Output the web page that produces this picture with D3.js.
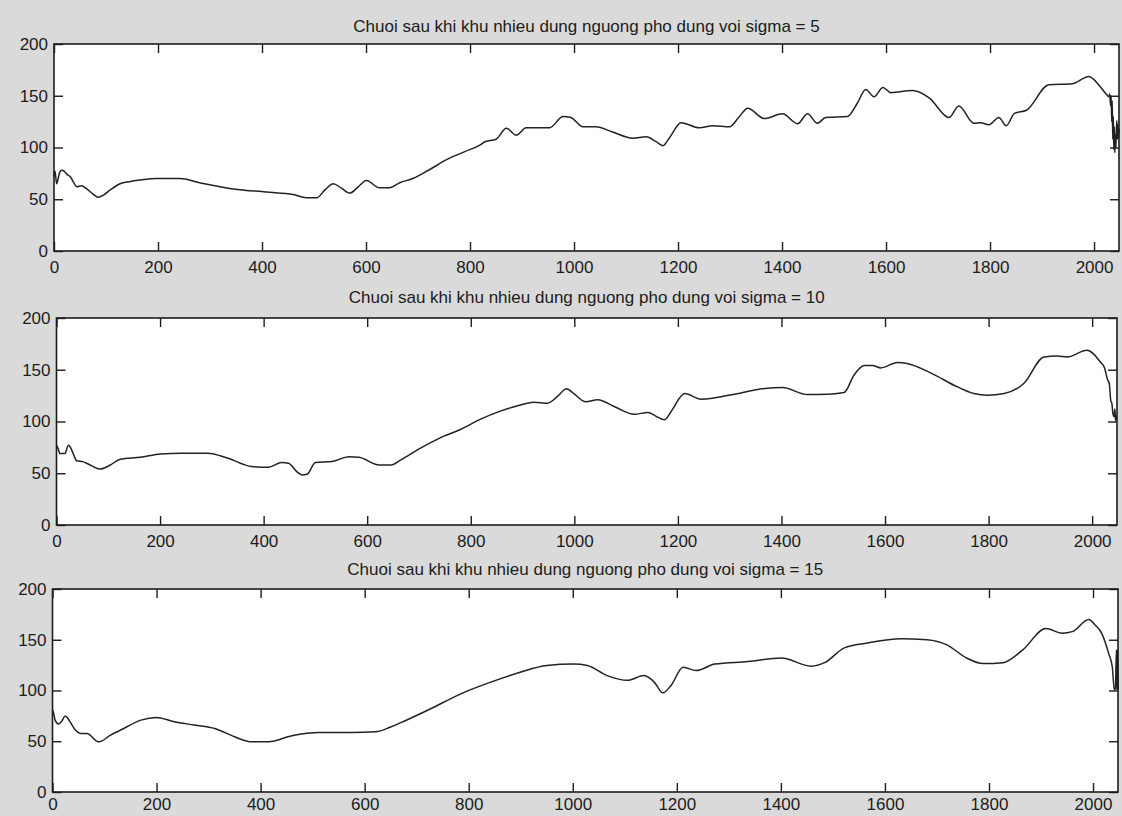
<!DOCTYPE html>
<html>
<head>
<meta charset="utf-8">
<script src="https://cdn.jsdelivr.net/npm/d3@7/dist/d3.min.js"></script>
<style>
  html, body { margin: 0; padding: 0; background: #dadada; }
  svg { display: block; }
  text { font-family: "Liberation Sans", Arial, sans-serif; fill: #1c1c1c; }
</style>
</head>
<body>
<svg id="chart" width="1122" height="816"></svg>
<script>
// ---------- DATA ----------
const xTicks = [0, 200, 400, 600, 800, 1000, 1200, 1400, 1600, 1800, 2000];
const yTicks = [0, 50, 100, 150, 200];
const xDomain = [0, 2048];
const yDomain = [0, 200];

const titles = [
  "Chuoi sau khi khu nhieu dung nguong pho dung voi sigma = 5",
  "Chuoi sau khi khu nhieu dung nguong pho dung voi sigma = 10",
  "Chuoi sau khi khu nhieu dung nguong pho dung voi sigma = 15"
];

const sigma5 = [[0,72],[2,77],[5,65],[8,70],[11,76],[15,78],[20,77],[25,74],[31,72],[38,66],[44,62],[53,63],[63,60],[75,55],[85,52],[95,54],[108,59],[127,65],[145,67],[165,68.5],[197,70],[242,70],[280,66],[345,60],[408,57],[460,54.6],[485,51.4],[505,51.4],[521,59],[537,65],[552,61],[569,56],[585,62],[601,68],[626,61],[645,61],[665,66],[690,70],[720,78],[754,88],[790,96],[818,102],[829,105.6],[850,108],[870,118.6],[889,112],[908,119],[953,119],[979,130],[994,129],[1017,120],[1042,120],[1074,115],[1113,109],[1139,110.5],[1158,105.6],[1171,101.8],[1183,109],[1206,124],[1241,119],[1267,121],[1299,120],[1318,130],[1334,138],[1366,128],[1401,132.5],[1430,123],[1449,132.5],[1468,123.4],[1484,129],[1526,130],[1545,143],[1561,156],[1577,149],[1594,158],[1609,153],[1651,155],[1683,148],[1721,129],[1740,140],[1769,123.4],[1782,124],[1798,122],[1817,129],[1831,121],[1847,133],[1870,136],[1913,160.6],[1958,161.6],[1990,168.7],[2010,160],[2022,152.5],[2029,149],[2030,152],[2032,140],[2033,150],[2034,125],[2035,145],[2036,108],[2037,130],[2038,98],[2039,120],[2040,95],[2041,112],[2042,100],[2043,118],[2044,126],[2045,108],[2046,122],[2047,110],[2048,118]];

const sigma10 = [[0,77],[3,74],[6.5,69],[16,69],[23,77],[27,75],[33,68],[39,62],[52,61],[65,58],[84,54],[104,58],[123,63.5],[162,65.5],[201,68.7],[240,69.4],[292,69.4],[331,64.5],[377,56.5],[409,55.8],[435,60.3],[448,59.7],[464,51.6],[474,48.4],[484,49],[500,60.3],[532,61.3],[565,66],[584,65.5],[623,58],[646,58],[665,63],[702,74],[740,84],[779,92],[818,102],[857,110],[889,115],[922,118.7],[948,117.7],[967,124],[985,131.6],[999,127],[1022,119],[1045,121],[1077,114.5],[1116,107],[1142,108.7],[1158,105],[1174,101.6],[1187,109.7],[1213,127],[1245,121.6],[1304,125.8],[1368,132],[1402,132.8],[1450,126],[1489,126.4],[1521,128],[1540,144.7],[1560,154],[1576,154],[1592,151.8],[1624,157],[1643,156],[1688,147],[1740,133.4],[1772,127],[1797,125.4],[1830,127],[1868,136.7],[1907,162.4],[1932,163.3],[1952,162.4],[1990,168.8],[2016,157.5],[2024,151.7],[2030,140],[2033,137],[2036,120],[2038,117.8],[2040,108],[2042,104.8],[2044,112],[2045,101],[2047,106]];

const sigma15 = [[0,80.7],[2,78],[5,70.8],[11.6,67],[18,70],[24.5,75],[29,73],[34,69],[44,61],[53.5,57.7],[66,57.7],[89,49.4],[111.6,56],[137,62.6],[170,70.8],[199,73.5],[234,69.2],[273,66],[312,62.6],[350,54.4],[383,49.4],[415,49.4],[460,55.4],[512,58.6],[576,58.6],[621,59.3],[650,64],[679,70.5],[724,81.3],[789,97.7],[841,108],[899,118],[950,124.6],[1002,126],[1028,124.6],[1066,114.7],[1105,110],[1137,114.7],[1157,108],[1173,97.7],[1189,105],[1212,123],[1237,119.7],[1273,126],[1337,128.5],[1401,132],[1458,124],[1484,127.4],[1522,142],[1566,146.8],[1630,151],[1681,150],[1719,145],[1757,132],[1789,126.5],[1827,127.4],[1865,140],[1909,161],[1941,156.5],[1960,158],[1992,170],[2004,164.5],[2017,156],[2030,136.6],[2037,123.4],[2041,100.5],[2043,102],[2045,140],[2046,100.5],[2047,140],[2048,101]];

const seriesList = [sigma5, sigma10, sigma15];

// ---------- LAYOUT ----------
const panels = [
  { left: 54,   right: 1119, top: 44,  bottom: 251, titleY: 31.5, xPad: 10 },
  { left: 56.5, right: 1117, top: 318, bottom: 525, titleY: 303,  xPad: 10 },
  { left: 52.5, right: 1118, top: 589, bottom: 792, titleY: 575,  xPad: 6 }
];

const svg = d3.select("#chart");
svg.append("rect").attr("width", 1122).attr("height", 816).attr("fill", "#dadada");

const ink = "#1c1c1c";
const fontSize = 17;

panels.forEach((p, i) => {
  const x = d3.scaleLinear().domain(xDomain).range([p.left, p.right]);
  const y = d3.scaleLinear().domain(yDomain).range([p.bottom, p.top]);
  const g = svg.append("g");

  g.append("rect")
    .attr("x", p.left).attr("y", p.top)
    .attr("width", p.right - p.left).attr("height", p.bottom - p.top)
    .attr("fill", "#ffffff");

  // data line
  const line = d3.line().x(d => x(d[0])).y(d => y(d[1])).curve(d3.curveMonotoneX);
  g.append("path")
    .datum(seriesList[i])
    .attr("d", line)
    .attr("fill", "none")
    .attr("stroke", "#222")
    .attr("stroke-width", 1.5)
    .attr("stroke-linejoin", "round");

  const styleAxis = (sel, showLabels) => {
    sel.select(".domain").remove();
    sel.selectAll(".tick line").attr("stroke", ink).attr("stroke-width", 1.4);
    sel.selectAll(".tick text")
      .attr("fill", ink)
      .style("font-size", fontSize + "px")
      .style("font-family", '"Liberation Sans", Arial, sans-serif');
    if (!showLabels) sel.selectAll(".tick text").remove();
  };

  g.append("g").attr("transform", `translate(0,${p.bottom})`)
    .call(d3.axisBottom(x).tickValues(xTicks).tickSize(-9).tickPadding(p.xPad).tickFormat(d3.format("d")))
    .call(s => styleAxis(s, true));
  g.append("g").attr("transform", `translate(0,${p.top})`)
    .call(d3.axisTop(x).tickValues(xTicks).tickSize(-9))
    .call(s => styleAxis(s, false));
  g.append("g").attr("transform", `translate(${p.left},0)`)
    .call(d3.axisLeft(y).tickValues(yTicks).tickSize(-9).tickPadding(6).tickFormat(d3.format("d")))
    .call(s => styleAxis(s, true));
  g.append("g").attr("transform", `translate(${p.right},0)`)
    .call(d3.axisRight(y).tickValues(yTicks).tickSize(-9))
    .call(s => styleAxis(s, false));

  // box
  g.append("rect")
    .attr("x", p.left).attr("y", p.top)
    .attr("width", p.right - p.left).attr("height", p.bottom - p.top)
    .attr("fill", "none").attr("stroke", ink).attr("stroke-width", 1.6);

  g.append("text")
    .attr("x", (p.left + p.right) / 2)
    .attr("y", p.titleY)
    .attr("text-anchor", "middle")
    .style("font-size", fontSize + "px")
    .text(titles[i]);
});
</script>
</body>
</html>
